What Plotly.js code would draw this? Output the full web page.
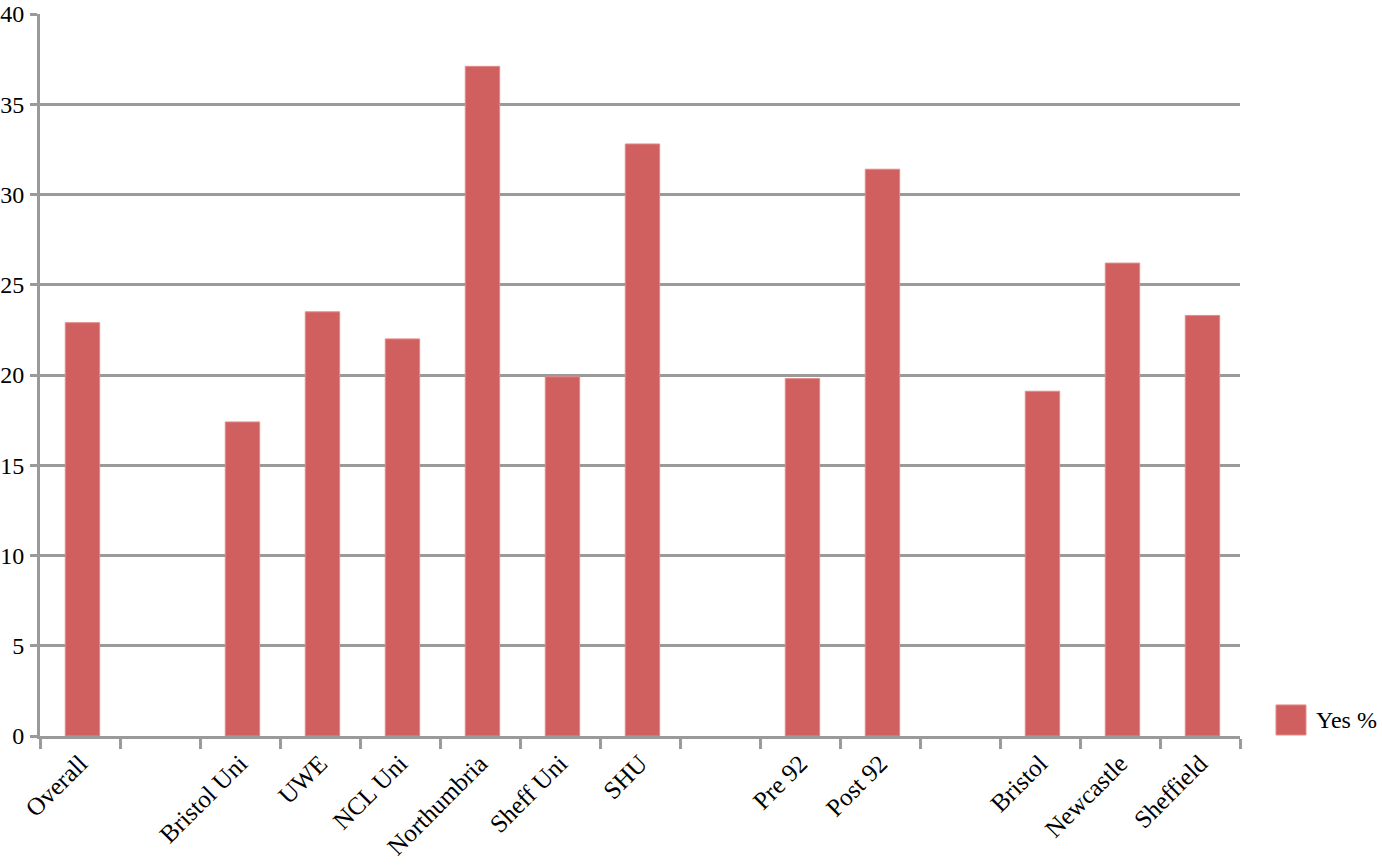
<!DOCTYPE html>
<html>
<head>
<meta charset="utf-8">
<script src="https://cdn.plot.ly/plotly-3.0.1.min.js"></script>
<style>html,body{margin:0;padding:0;background:#fff;}#chart{width:1382px;height:866px;}</style>
</head>
<body>
<div id="chart"></div>
<script>
const categories = ["Overall", " ", "Bristol Uni", "UWE", "NCL Uni", "Northumbria", "Sheff Uni", "SHU", "  ", "Pre 92", "Post 92", "   ", "Bristol", "Newcastle", "Sheffield"];
const yesPct = [22.9, null, 17.4, 23.5, 22.0, 37.1, 19.9, 32.8, null, 19.8, 31.4, null, 19.1, 26.2, 23.3];
const seriesName = "Yes %";
const yTicks = [0, 5, 10, 15, 20, 25, 30, 35, 40];

const barColor = "#CF605F";
const gridColor = "#9a9a9a";
const fontFam = "Liberation Serif, Times New Roman, serif";

const trace = {
  type: "bar",
  x: categories,
  y: yesPct,
  name: seriesName,
  width: 0.43,
  offset: -0.184,
  marker: {color: barColor, line: {color: "#E58A88", width: 1}},
  showlegend: false,
  hoverinfo: "x+y"
};

const layout = {
  width: 1382, height: 866,
  margin: {l: 40, r: 142, t: 14, b: 130},
  paper_bgcolor: "#fff", plot_bgcolor: "#fff",
  font: {family: fontFam, size: 22, color: "#000"},
  xaxis: {
    type: "category",
    categoryorder: "array",
    categoryarray: categories,
    tickangle: -45,
    tickson: "boundaries",
    ticks: "outside", ticklen: 10, tickwidth: 3, tickcolor: gridColor,
    showline: true, linecolor: gridColor, linewidth: 3,
    showgrid: false,
    tickfont: {family: fontFam, size: 25, color: "#000"},
    automargin: false
  },
  yaxis: {
    range: [0, 40],
    tickvals: yTicks,
    ticktext: yTicks.map(String),
    ticks: "outside", ticklen: 7, tickwidth: 3, tickcolor: gridColor,
    showline: true, linecolor: gridColor, linewidth: 3,
    showgrid: true, gridcolor: gridColor, gridwidth: 3,
    zeroline: false,
    tickfont: {family: fontFam, size: 24, color: "#000"},
    ticklabelstandoff: 1,
    automargin: false
  },
  shapes: [{
    type: "rect", xref: "paper", yref: "paper",
    x0: 1.03, x1: 1.055, y0: 0.0014, y1: 0.043,
    fillcolor: barColor, line: {color: "#E58A88", width: 1}
  }],
  annotations: [{
    xref: "paper", yref: "paper", x: 1.062, y: 0.022,
    xanchor: "left", yanchor: "middle", showarrow: false,
    text: seriesName, font: {family: fontFam, size: 24, color: "#000"}
  }]
};

Plotly.newPlot("chart", [trace], layout, {displayModeBar: false, staticPlot: true});
</script>
</body>
</html>
